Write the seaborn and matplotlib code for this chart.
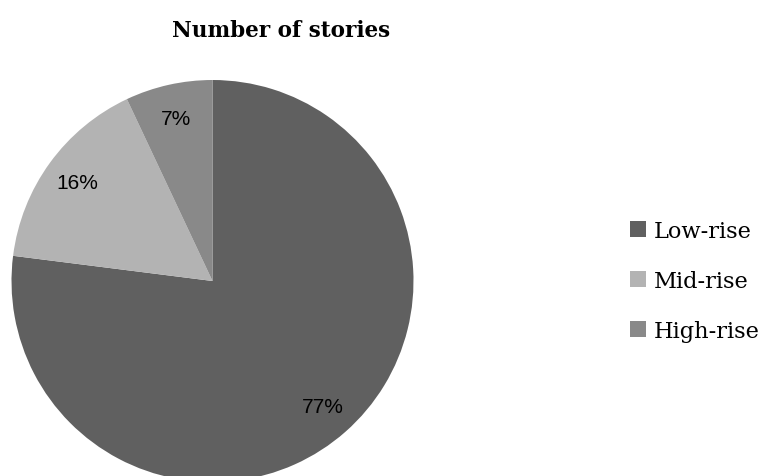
import matplotlib
matplotlib.use("Agg")
import matplotlib.pyplot as plt
import seaborn as sns

categories = ["Low-rise", "Mid-rise", "High-rise"]
shares = [77, 16, 7]
colors = ["#606060", "#b3b3b3", "#898989"]
title = "Number of stories"

sns.set_theme(style="white")
plt.rcParams["font.family"] = ["DejaVu Serif", "Liberation Serif"]
plt.rcParams["text.color"] = "black"

W, H = 767, 477
fig = plt.figure(figsize=(W / 100, H / 100), dpi=100)
fig.patch.set_facecolor("white")

cx, cy, r = 212.5, 282, 201
ax = fig.add_axes([(cx - r) / W, (H - cy - r) / H, 2 * r / W, 2 * r / H])
wedges, texts, autotexts = ax.pie(
    shares, colors=colors, startangle=90, counterclock=False,
    autopct="%d%%", pctdistance=0.83, radius=1,
    textprops=dict(family=["Liberation Sans", "DejaVu Sans"], fontsize=15, color="black"),
    wedgeprops=dict(linewidth=0),
)
ax.set_xlim(-1, 1)
ax.set_ylim(-1, 1)
ax.set_aspect("equal")
ax.axis("off")

fig.text(281 / W, 1 - 31 / H, title, ha="center", va="center",
         fontsize=15.5, fontweight="bold", color="black")

leg = fig.legend(wedges, categories, loc="center left",
                 bbox_to_anchor=(630 / W, 1 - 282 / H), frameon=False,
                 fontsize=16.2, handlelength=0.72, handleheight=0.72,
                 handletextpad=0.35, labelspacing=1.25, borderaxespad=0,
                 borderpad=0)
for t in leg.get_texts():
    t.set_color("black")

fig.savefig("out.png", dpi=100, facecolor="white")
